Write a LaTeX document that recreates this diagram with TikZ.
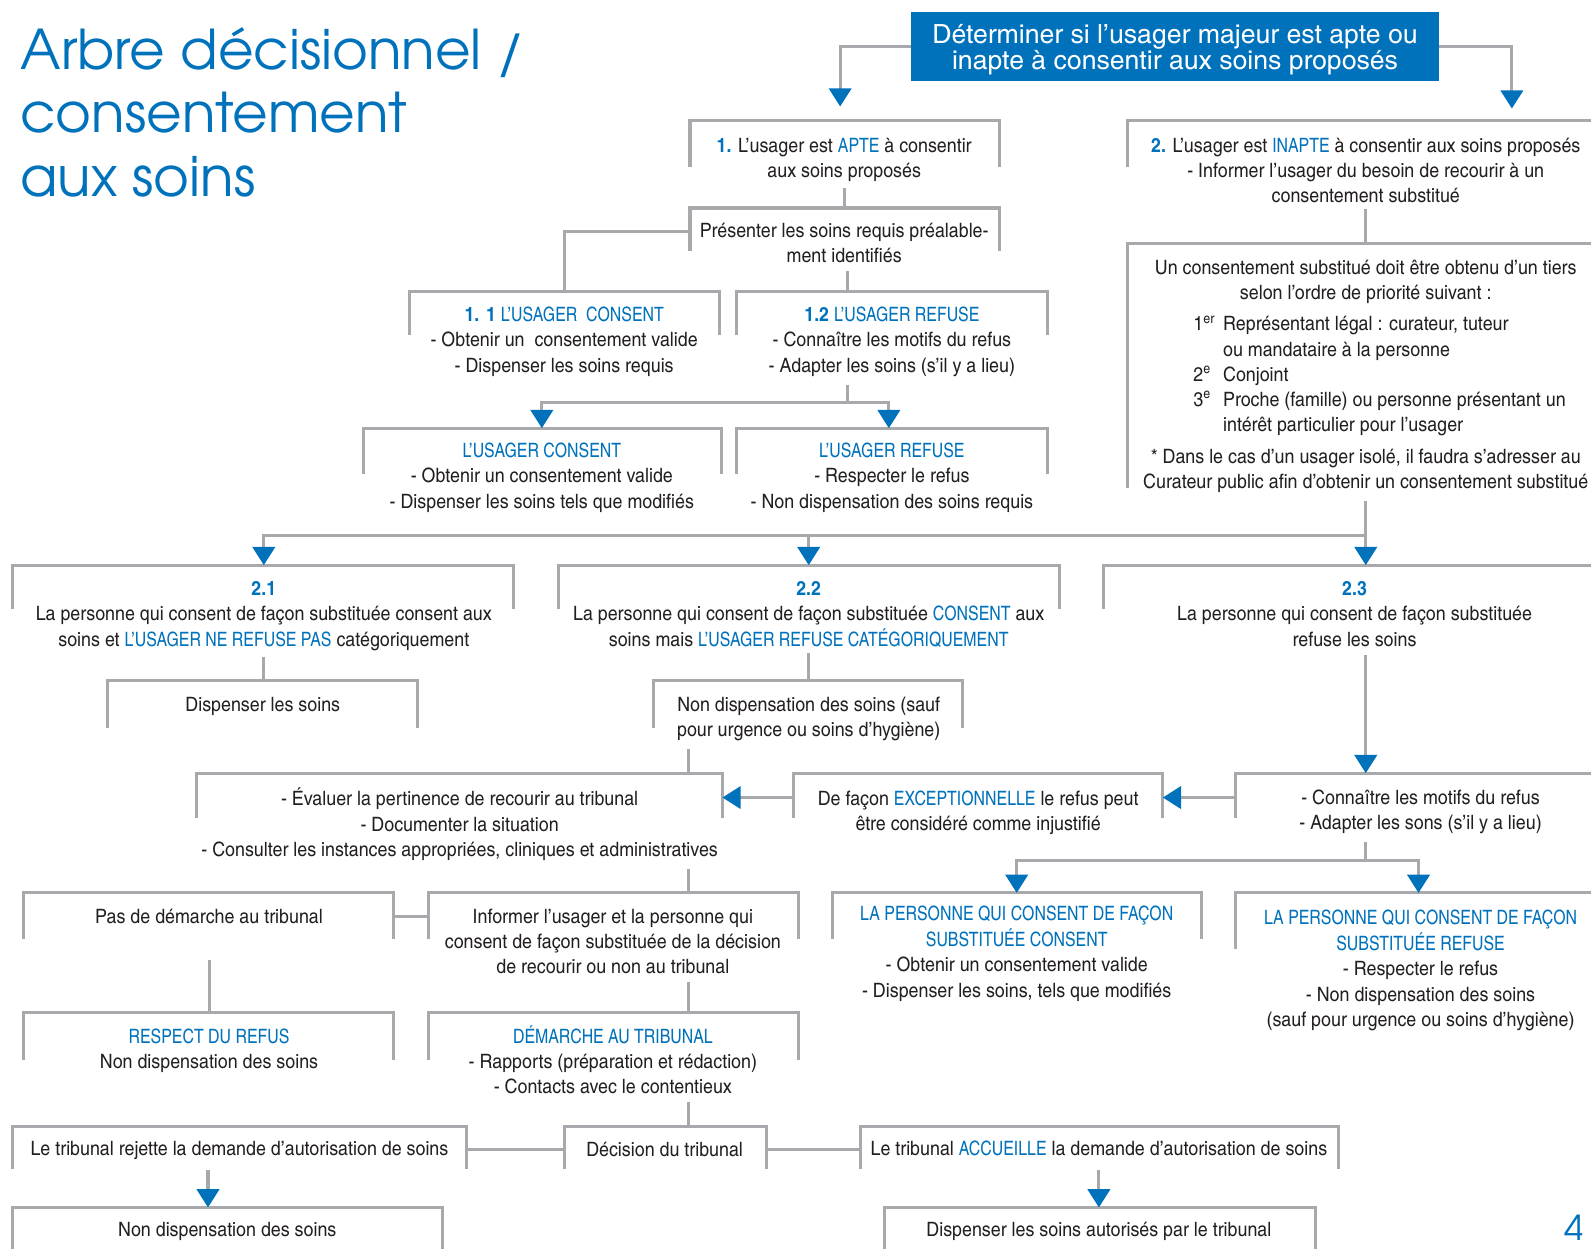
\documentclass[tikz,border=0pt]{standalone}
\usepackage{fontspec}
\setmainfont{texgyreheroscn}[Extension=.otf, UprightFont=*-regular, BoldFont=*-bold, ItalicFont=*-italic, BoldItalicFont=*-bolditalic, FakeStretch=1.1]
\newfontfamily\capcn{texgyreheroscn}[Extension=.otf, UprightFont=*-regular, BoldFont=*-bold, FakeStretch=0.98]
\newfontfamily\bigcn{texgyreheroscn}[Extension=.otf, UprightFont=*-regular, BoldFont=*-bold, FakeStretch=1.23]
\newfontfamily\titlefont{texgyreadventor}[Extension=.otf, UprightFont=*-regular, BoldFont=*-bold]
\usetikzlibrary{arrows.meta}
\definecolor{ublue}{RGB}{0,114,188}
\definecolor{lgray}{RGB}{167,169,172}
\definecolor{dtext}{RGB}{35,31,32}
\newcommand\bl[1]{{\capcn\color{ublue}#1}}
\newcommand\bb[1]{\textbf{\textcolor{ublue}{#1}}}
\tikzset{
  frame/.style={draw=lgray, line width=3pt},
  conn/.style={draw=lgray, line width=3pt},
  arr/.style={conn, -{Triangle[width=22pt,length=18pt,color=ublue]}},
  txt/.style={font=\fontsize{19.5}{24.8}\selectfont, text=dtext, align=center, inner sep=0pt, anchor=north},
}
% name, x1, x2, top, leg, text x, first line centre, text
\newcommand\brk[8]{%
  \draw[frame] (#2,#4+#5) -- (#2,#4) -- (#3,#4) -- (#3,#4+#5);
  \coordinate (#1-n) at (#6,#4);
  \coordinate (#1-nw) at (#2,#4);
  \coordinate (#1-ne) at (#3,#4);
  \node[txt] (#1) at (#6,#7-10.5) {\strut #8};
}
\begin{document}
\begin{tikzpicture}[x=1pt,y=-1pt]
\useasboundingbox (0,0) rectangle (1568,1230);
\fill[white] (0,0) rectangle (1568,1230);

% title
\node[anchor=north west, inner sep=0pt, align=left, text=ublue,
      font=\titlefont\fontsize{54}{62.5}\selectfont] (title) at (20,24.25)
  {\strut Arbre décisionnel /\\consentement\\aux soins};

% top blue box
\node[fill=ublue, minimum width=520pt, minimum height=68pt, inner sep=0pt] (top) at (1158,46) {};
\node[text=white, align=center, inner sep=0pt, font=\bigcn\fontsize{26}{26}\selectfont] (toptext) at (1158,49)
  {Déterminer si l’usager majeur est apte ou\\inapte à consentir aux soins proposés};

% boxes
\brk{b1}{680}{985}{119}{46}{832}{143}{\bb{1.} L’usager est \bl{APTE} à consentir\\aux soins proposés}
\brk{pres}{680}{985}{205}{42}{832}{227}{Présenter les soins requis préalable-\\ment identifiés}
\brk{b11}{404}{709}{287}{43}{556}{310}{\bb{1. 1} \bl{L’USAGER\ \ CONSENT}\\- Obtenir un\ \ consentement valide\\- Dispenser les soins requis}
\brk{b12}{726}{1032}{287}{43}{879}{310}{\bb{1.2} \bl{L’USAGER REFUSE}\\- Connaître les motifs du refus\\- Adapter les soins (s’il y a lieu)}
\brk{c11}{358}{711}{422}{45}{534}{444}{\bl{L’USAGER CONSENT}\\- Obtenir un consentement valide\\- Dispenser les soins tels que modifiés}
\brk{r12}{726}{1032}{422}{45}{879}{444}{\bl{L’USAGER REFUSE}\\- Respecter le refus\\- Non dispensation des soins requis}

\brk{b2}{1111}{1585}{119}{46}{1346}{143}{\bb{2.} L’usager est \bl{INAPTE} à consentir aux soins proposés\\- Informer l’usager du besoin de recourir à un\\consentement substitué}
\brk{cons}{1111}{1585}{240}{241}{1346}{263}{Un consentement substitué doit être obtenu d’un tiers\\selon l’ordre de priorité suivant :}
\node[txt, anchor=north west, align=left] (list) at (1176,308.5)
  {\begin{tabular}{@{}l@{\hspace{8pt}}l@{}}
   1\textsuperscript{er} & Représentant légal : curateur, tuteur\\
    & ou mandataire à la personne\\
   2\textsuperscript{e} & Conjoint\\
   3\textsuperscript{e} & Proche (famille) ou personne présentant un\\
    & intérêt particulier pour l’usager
   \end{tabular}};
\node[txt] (note) at (1346,439.5) {\strut * Dans le cas d’un usager isolé, il faudra s’adresser au\\Curateur public afin d’obtenir un consentement substitué};

\brk{b21}{12}{506}{557}{43}{260}{580}{\bb{2.1}\\La personne qui consent de façon substituée consent aux\\soins et \bl{L’USAGER NE REFUSE PAS} catégoriquement}
\brk{disp}{106}{411}{671}{46}{259}{694}{Dispenser les soins}
\brk{b22}{550}{1044}{557}{43}{797}{580}{\bb{2.2}\\La personne qui consent de façon substituée \bl{CONSENT} aux\\soins mais \bl{L’USAGER REFUSE CATÉGORIQUEMENT}}
\brk{nondisp}{644}{949}{671}{46}{797}{694}{Non dispensation des soins (sauf\\pour urgence ou soins d’hygiène)}
\brk{b23}{1088}{1585}{557}{43}{1335}{580}{\bb{2.3}\\La personne qui consent de façon substituée\\refuse les soins}

\brk{eval}{194}{712}{762}{44}{453}{787}{- Évaluer la pertinence de recourir au tribunal\\- Documenter la situation\\- Consulter les instances appropriées, cliniques et administratives}
\brk{exc}{782}{1146}{762}{44}{964}{787}{De façon \bl{EXCEPTIONNELLE} le refus peut\\être considéré comme injustifié}
\brk{conn}{1218}{1585}{762}{44}{1400}{786}{- Connaître les motifs du refus\\- Adapter les sons (s’il y a lieu)}
\brk{pcons}{820}{1184}{880}{45}{1002}{900}{\bl{LA PERSONNE QUI CONSENT DE FAÇON}\\\bl{SUBSTITUÉE CONSENT}\\- Obtenir un consentement valide\\- Dispenser les soins, tels que modifiés}
\brk{pref}{1218}{1585}{880}{55}{1400}{904}{\bl{LA PERSONNE QUI CONSENT DE FAÇON}\\\bl{SUBSTITUÉE REFUSE}\\- Respecter le refus\\- Non dispensation des soins\\(sauf pour urgence ou soins d’hygiène)}

\brk{pas}{23}{388}{880}{45}{206}{903}{Pas de démarche au tribunal}
\brk{inf}{422}{787}{880}{45}{604}{903}{Informer l’usager et la personne qui\\consent de façon substituée de la décision\\de recourir ou non au tribunal}
\brk{resp}{23}{388}{998}{47}{206}{1021}{\bl{RESPECT DU REFUS}\\Non dispensation des soins}
\brk{dem}{422}{787}{998}{47}{604}{1021}{\bl{DÉMARCHE AU TRIBUNAL}\\- Rapports (préparation et rédaction)\\- Contacts avec le contentieux}

\brk{rej}{12}{460}{1110}{42}{236}{1132}{Le tribunal rejette la demande d’autorisation de soins}
\brk{dec}{556}{755}{1110}{42}{655}{1133}{Décision du tribunal}
\brk{acc}{848}{1319}{1110}{42}{1083}{1132}{Le tribunal \bl{ACCUEILLE} la demande d’autorisation de soins}
\brk{nd}{12}{436}{1190}{60}{224}{1212}{Non dispensation des soins}
\brk{da}{872}{1296}{1190}{60}{1083}{1212}{Dispenser les soins autorisés par le tribunal}

% page number
\node[anchor=base west, inner sep=0pt, text=ublue, font=\titlefont\fontsize{34}{34}\selectfont] (pg) at (1542,1223) {4};

% junction coordinates
\coordinate (a2) at (1490,107);
\coordinate (j1) at (835,397);
\coordinate (j2) at (1346,528);
\coordinate (j3) at (1346,848);
\coordinate (sp) at (679,0);
\coordinate (k1) at (205,0);

% connectors
\draw[arr] (top.west) -| ([xshift=-4pt,yshift=14pt]b1-n);
\draw[arr] (top.east) -| (a2);
\draw[conn] ([yshift=-6pt]b1.south) -- (b1.south |- pres-n);
\draw[conn] ([yshift=-23pt]pres-nw) -| (b11-n);
\draw[conn] ([yshift=-8pt]pres.south -| j1) -- (j1 |- b12-n);
\draw[conn] ([yshift=-8pt]b12.south -| j1) -- (j1);
\draw[arr] (j1) -| (c11-n);
\draw[arr] (j1) -| ([xshift=-3pt]r12-n);
\draw[conn] ([yshift=-6pt]b2.south -| j2) -- (cons-n);
\draw[conn] ([yshift=-8pt]note.south -| j2) -- (j2);
\draw[arr] (j2) -| (b21-n);
\draw[arr] (j2) -| (b22-n);
\draw[arr] (j2) -- (j2 |- b23-n);
\draw[conn] ([yshift=-6pt]b21.south) -- (b21.south |- disp-n);
\draw[conn] ([yshift=-6pt]b22.south) -- (b22.south |- nondisp-n);
\draw[conn] ([yshift=-8pt]nondisp.south -| sp) -- (eval-n -| sp);
\draw[arr] ([yshift=-8pt]b23.south -| j2) -- (conn-nw -| j2);
\draw[arr] ([yshift=-24pt]conn-nw) -- ([yshift=-24pt]exc-ne);
\draw[arr] ([yshift=-24pt]exc-nw) -- ([yshift=-24pt]eval-ne);
\draw[conn] ([yshift=-8pt]conn.south -| j3) -- (j3);
\draw[arr] (j3) -| (pcons-n);
\draw[arr] (j3) -| ([xshift=-2pt]pref-n);
\draw[conn] ([yshift=-8pt]eval.south -| sp) -- (inf-n -| sp);
\draw[conn] ([yshift=-23pt]pas-ne) -- ([yshift=-23pt]inf-nw);
\draw[conn] ([yshift=-28pt]pas.south) -- (pas.south |- resp-n);
\draw[conn] ([yshift=-8pt]inf.south -| sp) -- (dem-n -| sp);
\draw[conn] ([yshift=-8pt]dem.south -| sp) -- (dec-n -| sp);
\draw[conn] ([yshift=-23pt]rej-ne) -- ([yshift=-23pt]dec-nw);
\draw[conn] ([yshift=-23pt]dec-ne) -- ([yshift=-23pt]acc-nw);
\draw[arr] ([yshift=-6pt]rej.south -| k1) -- (nd-n -| k1);
\draw[arr] ([yshift=-6pt]acc.south) -- (acc.south |- da-n);
\end{tikzpicture}
\end{document}
